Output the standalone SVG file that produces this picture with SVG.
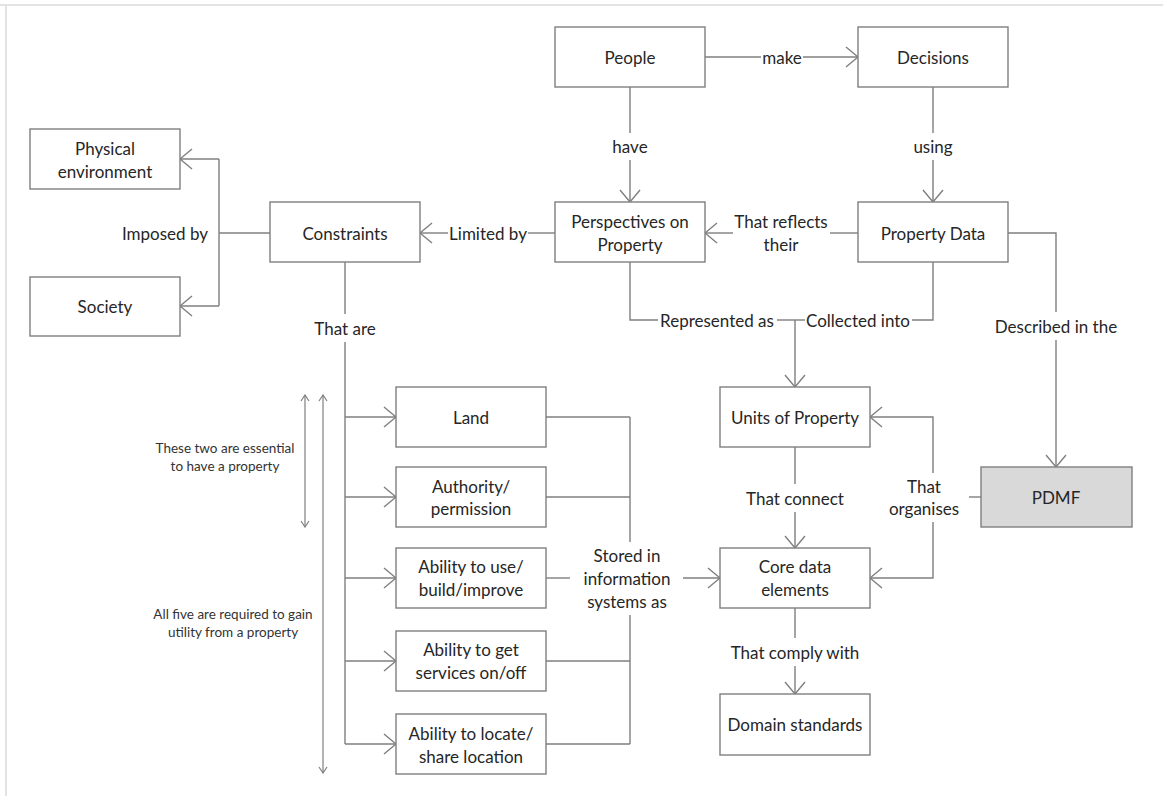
<svg xmlns="http://www.w3.org/2000/svg" width="1163" height="796" viewBox="0 0 1163 796">
  <style>
    .box { fill: #ffffff; stroke: #7f7f7f; stroke-width: 1.4; }
    .shade { fill: #d9d9d9; }
    .t { font-family: Lato, "Liberation Sans", sans-serif; font-size: 17px; fill: #262626; text-anchor: middle; dominant-baseline: central; }
    .s { font-family: Lato, "Liberation Sans", sans-serif; font-size: 13.5px; fill: #333333; text-anchor: middle; dominant-baseline: central; }
    .c { fill: none; stroke: #7f7f7f; stroke-width: 1.4; }
    .a { marker-end: url(#head); }
    .d { fill: none; stroke: #7f7f7f; stroke-width: 1.2; marker-start: url(#small); marker-end: url(#small); }
  </style>
  <defs>
    <marker id="head" viewBox="-13 -11 14 22" refX="0" refY="0" markerWidth="14" markerHeight="22" markerUnits="userSpaceOnUse" orient="auto">
      <path d="M -12 -10 L 0 0 L -12 10" fill="none" stroke="#7f7f7f" stroke-width="1.4"/>
    </marker>
    <marker id="small" viewBox="-7 -5 8 10" refX="0" refY="0" markerWidth="8" markerHeight="10" markerUnits="userSpaceOnUse" orient="auto-start-reverse">
      <path d="M -6 -4 L 0 0 L -6 4" fill="none" stroke="#7f7f7f" stroke-width="1.2"/>
    </marker>
  </defs>

  <!-- page frame -->
  <g id="frame">
    <line x1="0" y1="5" x2="1163" y2="5" stroke="#e3e3e3" stroke-width="2"/>
    <line x1="6" y1="5" x2="6" y2="796" stroke="#e3e3e3" stroke-width="2"/>
  </g>

  <g id="connectors">
    <!-- People make Decisions -->
    <line class="c" x1="705" y1="57" x2="761" y2="57"/>
    <text class="t" x="782" y="57">make</text>
    <line class="c a" x1="803" y1="57" x2="858" y2="57"/>
    <!-- People have Perspectives -->
    <line class="c" x1="630" y1="87" x2="630" y2="133"/>
    <text class="t" x="630" y="146">have</text>
    <line class="c a" x1="630" y1="160" x2="630" y2="202"/>
    <!-- Decisions using Property Data -->
    <line class="c" x1="933" y1="87" x2="933" y2="133"/>
    <text class="t" x="933" y="146">using</text>
    <line class="c a" x1="933" y1="160" x2="933" y2="202"/>
    <!-- Property Data reflects Perspectives -->
    <line class="c" x1="858" y1="233" x2="830" y2="233"/>
    <text class="t" x="781" y="221">That reflects</text>
    <text class="t" x="781" y="244">their</text>
    <line class="c a" x1="733" y1="233" x2="705" y2="233"/>
    <!-- Perspectives limited by Constraints -->
    <line class="c" x1="555" y1="233" x2="528" y2="233"/>
    <text class="t" x="488" y="233">Limited by</text>
    <line class="c a" x1="448" y1="233" x2="420" y2="233"/>
    <!-- Constraints imposed by -->
    <line class="c" x1="270" y1="233" x2="219" y2="233"/>
    <text class="t" x="208" y="233" style="text-anchor:end">Imposed by</text>
    <line class="c" x1="219" y1="159" x2="219" y2="306"/>
    <line class="c a" x1="219" y1="159" x2="180" y2="159"/>
    <line class="c a" x1="219" y1="306" x2="180" y2="306"/>
    <!-- Constraints that are -->
    <line class="c" x1="345" y1="262" x2="345" y2="314"/>
    <text class="t" x="345" y="328">That are</text>
    <line class="c" x1="345" y1="342" x2="345" y2="744"/>
    <line class="c a" x1="345" y1="417" x2="396" y2="417"/>
    <line class="c a" x1="345" y1="497" x2="396" y2="497"/>
    <line class="c a" x1="345" y1="578" x2="396" y2="578"/>
    <line class="c a" x1="345" y1="661" x2="396" y2="661"/>
    <line class="c a" x1="345" y1="744" x2="396" y2="744"/>
    <!-- stored in information systems -->
    <line class="c" x1="546" y1="417" x2="630" y2="417"/>
    <line class="c" x1="546" y1="497" x2="630" y2="497"/>
    <line class="c" x1="546" y1="578" x2="570" y2="578"/>
    <line class="c" x1="546" y1="661" x2="630" y2="661"/>
    <line class="c" x1="546" y1="744" x2="630" y2="744"/>
    <line class="c" x1="630" y1="417" x2="630" y2="542"/>
    <line class="c" x1="630" y1="615" x2="630" y2="744"/>
    <text class="t" x="627" y="555">Stored in</text>
    <text class="t" x="627" y="578">information</text>
    <text class="t" x="627" y="601">systems as</text>
    <line class="c a" x1="683" y1="578" x2="720" y2="578"/>
    <!-- represented as / collected into -->
    <polyline class="c" points="630,262 630,320 658,320"/>
    <text class="t" x="717" y="320">Represented as</text>
    <line class="c" x1="777" y1="320" x2="805" y2="320"/>
    <text class="t" x="858" y="320">Collected into</text>
    <polyline class="c" points="912,320 933,320 933,262"/>
    <line class="c a" x1="795" y1="320" x2="795" y2="387"/>
    <!-- described in the PDMF -->
    <polyline class="c" points="1008,233 1056,233 1056,312"/>
    <text class="t" x="1056" y="326">Described in the</text>
    <line class="c a" x1="1056" y1="340" x2="1056" y2="467"/>
    <!-- Units connect Core -->
    <line class="c" x1="795" y1="447" x2="795" y2="484"/>
    <text class="t" x="795" y="498">That connect</text>
    <line class="c a" x1="795" y1="512" x2="795" y2="548"/>
    <!-- PDMF organises -->
    <line class="c" x1="981" y1="497" x2="969" y2="497"/>
    <text class="t" x="924" y="486">That</text>
    <text class="t" x="924" y="508">organises</text>
    <polyline class="c a" points="933,473 933,417 870,417"/>
    <polyline class="c a" points="933,522 933,578 870,578"/>
    <!-- Core comply with Domain standards -->
    <line class="c" x1="795" y1="608" x2="795" y2="638"/>
    <text class="t" x="795" y="652">That comply with</text>
    <line class="c a" x1="795" y1="666" x2="795" y2="694"/>
    <!-- extent arrows -->
    <line class="d" x1="305" y1="395" x2="305" y2="527"/>
    <line class="d" x1="323" y1="395" x2="323" y2="773"/>
    <text class="s" x="225" y="448">These two are essential</text>
    <text class="s" x="225" y="466">to have a property</text>
    <text class="s" x="233" y="614">All five are required to gain</text>
    <text class="s" x="233" y="632">utility from a property</text>
  </g>

  <g id="people"><rect class="box" x="555" y="27" width="150" height="60"/><text class="t" x="630" y="57">People</text></g>
  <g id="decisions"><rect class="box" x="858" y="27" width="150" height="60"/><text class="t" x="933" y="57">Decisions</text></g>
  <g id="physical-environment"><rect class="box" x="30" y="129" width="150" height="60"/><text class="t" x="105" y="148">Physical</text><text class="t" x="105" y="171">environment</text></g>
  <g id="society"><rect class="box" x="30" y="277" width="150" height="59"/><text class="t" x="105" y="306">Society</text></g>
  <g id="constraints"><rect class="box" x="270" y="202" width="150" height="60"/><text class="t" x="345" y="233">Constraints</text></g>
  <g id="perspectives"><rect class="box" x="555" y="202" width="150" height="60"/><text class="t" x="630" y="221">Perspectives on</text><text class="t" x="630" y="244">Property</text></g>
  <g id="property-data"><rect class="box" x="858" y="202" width="150" height="60"/><text class="t" x="933" y="233">Property Data</text></g>
  <g id="land"><rect class="box" x="396" y="387" width="150" height="60"/><text class="t" x="471" y="417">Land</text></g>
  <g id="authority"><rect class="box" x="396" y="467" width="150" height="60"/><text class="t" x="471" y="486">Authority/</text><text class="t" x="471" y="508">permission</text></g>
  <g id="use"><rect class="box" x="396" y="548" width="150" height="60"/><text class="t" x="471" y="566">Ability to use/</text><text class="t" x="471" y="589">build/improve</text></g>
  <g id="services"><rect class="box" x="396" y="631" width="150" height="60"/><text class="t" x="471" y="649">Ability to get</text><text class="t" x="471" y="672">services on/off</text></g>
  <g id="locate"><rect class="box" x="396" y="714" width="150" height="60"/><text class="t" x="471" y="733">Ability to locate/</text><text class="t" x="471" y="756">share location</text></g>
  <g id="units"><rect class="box" x="720" y="387" width="150" height="60"/><text class="t" x="795" y="417">Units of Property</text></g>
  <g id="pdmf"><rect class="box shade" x="981" y="467" width="151" height="60"/><text class="t" x="1056" y="497">PDMF</text></g>
  <g id="core"><rect class="box" x="720" y="548" width="150" height="60"/><text class="t" x="795" y="566">Core data</text><text class="t" x="795" y="589">elements</text></g>
  <g id="domain"><rect class="box" x="720" y="694" width="150" height="61"/><text class="t" x="795" y="724">Domain standards</text></g>
</svg>
